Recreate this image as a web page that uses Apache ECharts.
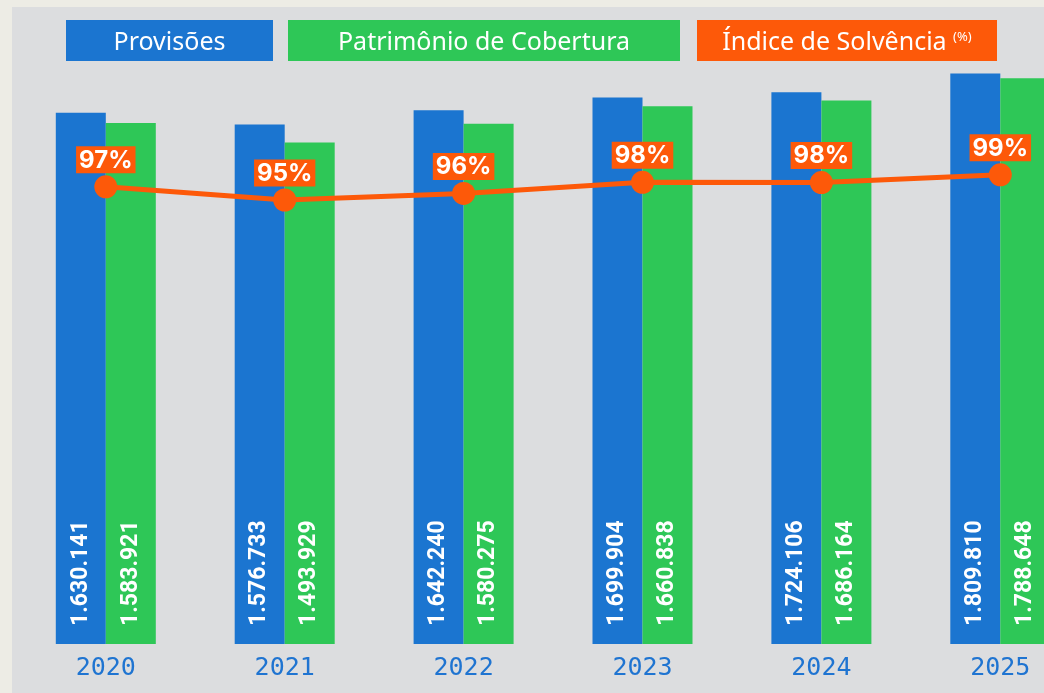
<!DOCTYPE html>
<html>
<head>
<meta charset="utf-8">
<script src="https://cdn.jsdelivr.net/npm/echarts@6/dist/echarts.min.js"></script>
<style>
  html, body { margin: 0; padding: 0; background: #edece5; overflow: hidden; width: 1044px; height: 693px; }
  #chart { position: absolute; left: 12px; top: 7px; width: 1078px; height: 686px; background: #dcdddf; }
</style>
</head>
<body>
<div id="chart"></div>
<script>
// ---- data ----
const years = ['2020', '2021', '2022', '2023', '2024', '2025'];
const provisoes = [1630141, 1576733, 1642240, 1699904, 1724106, 1809810];
const patrimonio = [1583921, 1493929, 1580275, 1660838, 1686164, 1788648];
const indice = [97.2, 95.0, 96.1, 97.95, 97.9, 99.2];
const seriesNames = ['Provisões', 'Patrimônio de Cobertura', 'Índice de Solvência'];

const BLUE = '#1b75d0', GREEN = '#2ec757', ORANGE = '#fd5909', YEAR = '#1f74d1';

function fmtThousands(v) {
  return String(v).replace(/\B(?=(\d{3})+(?!\d))/g, '.');
}

const chart = echarts.init(document.getElementById('chart'), null, { renderer: 'canvas' });

const valueLabel = {
  show: true,
  position: 'insideBottom',
  rotate: 90,
  align: 'left',
  verticalAlign: 'middle',
  distance: 18,
  color: '#ffffff',
  fontFamily: 'Roboto',
  fontWeight: 'bold',
  fontSize: 23,
  formatter: p => fmtThousands(p.value)
};

function legendBox(x, w, color, text, rich) {
  return {
    type: 'group',
    left: x, top: 13,
    children: [
      { type: 'rect', shape: { x: 0, y: 0, width: w, height: 41 }, style: { fill: color } },
      { type: 'text', x: w / 2, y: 23,
        style: { text: text, fill: '#ffffff', font: '25px "Noto Sans"', align: 'center', verticalAlign: 'middle', rich: rich } }
    ]
  };
}

chart.setOption({
  backgroundColor: '#dcdddf',
  animation: false,
  grid: { left: 4.35, right: 0.25, top: 25, bottom: 49, containLabel: false },
  xAxis: {
    type: 'category',
    data: years,
    axisLine: { show: false },
    axisTick: { show: false },
    axisLabel: { color: YEAR, fontFamily: 'DejaVu Sans Mono', fontSize: 25, margin: 12 }
  },
  yAxis: [
    { type: 'value', min: -800000, max: 2000000, startValue: -800000, show: false, splitLine: { show: false } },
    { type: 'value', min: 21, max: 123, show: false, splitLine: { show: false } }
  ],
  graphic: [
    legendBox(54, 207, BLUE, seriesNames[0]),
    legendBox(276, 392, GREEN, seriesNames[1]),
    legendBox(685, 300, ORANGE, '{a|' + seriesNames[2] + '} {s|(%)}', {
      a: { fill: '#ffffff', fontFamily: 'Noto Sans', fontSize: 25 },
      s: { fill: '#ffffff', fontFamily: 'Noto Sans', fontSize: 13, verticalAlign: 'top', padding: [0, 0, 12, 0] }
    })
  ],
  series: [
    {
      name: seriesNames[0], type: 'bar', data: provisoes, barWidth: 50, barGap: '0%',
      itemStyle: { color: BLUE }, label: valueLabel
    },
    {
      name: seriesNames[1], type: 'bar', data: patrimonio, barWidth: 50, barGap: '0%',
      itemStyle: { color: GREEN }, label: valueLabel
    },
    {
      name: seriesNames[2], type: 'line', yAxisIndex: 1, data: indice, z: 5,
      symbol: 'circle', symbolSize: 23,
      itemStyle: { color: ORANGE },
      lineStyle: { color: ORANGE, width: 5 },
      label: {
        show: true, position: 'top', distance: 2,
        color: '#ffffff', backgroundColor: ORANGE,
        fontFamily: 'Inter', fontWeight: 'bold', fontSize: 24,
        padding: [2, 3, 1, 3],
        formatter: p => Math.round(p.value) + '%'
      }
    }
  ]
});
</script>
</body>
</html>
